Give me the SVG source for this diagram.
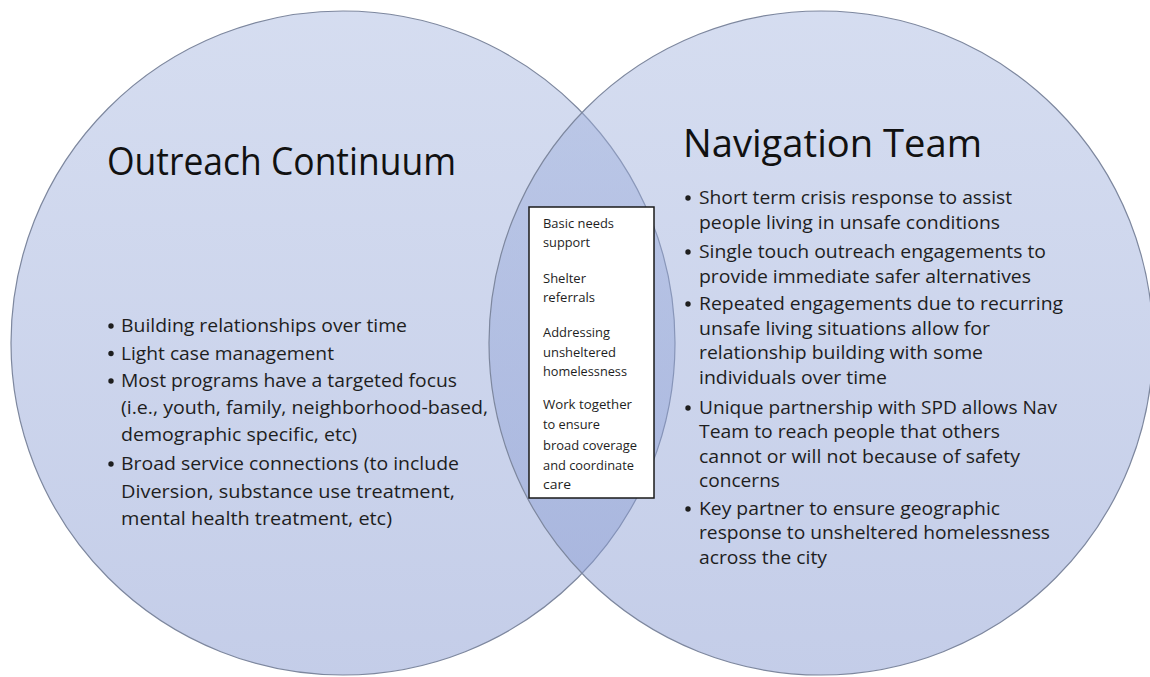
<svg xmlns="http://www.w3.org/2000/svg" width="1150" height="677" viewBox="0 0 1150 677">
<defs>
<linearGradient id="cg" x1="0" y1="0" x2="0" y2="1">
<stop offset="0" stop-color="#a2b3de" stop-opacity="0.45"/>
<stop offset="1" stop-color="#8497d0" stop-opacity="0.48"/>
</linearGradient>
<style>
.circ{fill:url(#cg);stroke:#7d879e;stroke-width:1.2}
.title{font-family:"Open Sans","Liberation Sans",sans-serif;font-size:39px;fill:#111}
.body{font-family:"Open Sans","Liberation Sans",sans-serif;font-size:19px;fill:#1e1e1e}
.small{font-family:"Open Sans","Liberation Sans",sans-serif;font-size:12.5px;fill:#1e1e1e}
.dot{fill:#1e1e1e}
.box{fill:#ffffff;stroke:#1a1a1a;stroke-width:1.5}
</style>
</defs>
<rect width="1150" height="677" fill="#ffffff"/>
<g id="outreach-continuum">
<circle class="circ" cx="343" cy="343" r="332"/>
<text class="title" x="107" y="175" textLength="349" lengthAdjust="spacingAndGlyphs">Outreach Continuum</text>
<circle class="dot" cx="111" cy="326" r="2.7"/>
<circle class="dot" cx="111" cy="353.5" r="2.7"/>
<circle class="dot" cx="111" cy="381" r="2.7"/>
<circle class="dot" cx="111" cy="464" r="2.7"/>
<text class="body" x="121" y="332" textLength="286" lengthAdjust="spacingAndGlyphs">Building relationships over time</text>
<text class="body" x="121" y="359.5" textLength="213" lengthAdjust="spacingAndGlyphs">Light case management</text>
<text class="body" x="121" y="387" textLength="336" lengthAdjust="spacingAndGlyphs">Most programs have a targeted focus</text>
<text class="body" x="121" y="414" textLength="367" lengthAdjust="spacingAndGlyphs">(i.e., youth, family, neighborhood-based,</text>
<text class="body" x="121" y="441" textLength="236" lengthAdjust="spacingAndGlyphs">demographic specific, etc)</text>
<text class="body" x="121" y="470" textLength="338" lengthAdjust="spacingAndGlyphs">Broad service connections (to include</text>
<text class="body" x="121" y="497.5" textLength="334" lengthAdjust="spacingAndGlyphs">Diversion, substance use treatment,</text>
<text class="body" x="121" y="525" textLength="271" lengthAdjust="spacingAndGlyphs">mental health treatment, etc)</text>
</g>
<g id="navigation-team">
<circle class="circ" cx="821" cy="343" r="332"/>
<text class="title" x="683" y="157" textLength="299" lengthAdjust="spacingAndGlyphs">Navigation Team</text>
<circle class="dot" cx="688" cy="198" r="2.7"/>
<circle class="dot" cx="688" cy="252" r="2.7"/>
<circle class="dot" cx="688" cy="304" r="2.7"/>
<circle class="dot" cx="688" cy="408" r="2.7"/>
<circle class="dot" cx="688" cy="509" r="2.7"/>
<text class="body" x="699" y="204" textLength="313" lengthAdjust="spacingAndGlyphs">Short term crisis response to assist</text>
<text class="body" x="699" y="229" textLength="301" lengthAdjust="spacingAndGlyphs">people living in unsafe conditions</text>
<text class="body" x="699" y="258" textLength="347" lengthAdjust="spacingAndGlyphs">Single touch outreach engagements to</text>
<text class="body" x="699" y="283" textLength="332" lengthAdjust="spacingAndGlyphs">provide immediate safer alternatives</text>
<text class="body" x="699" y="310" textLength="364" lengthAdjust="spacingAndGlyphs">Repeated engagements due to recurring</text>
<text class="body" x="699" y="335" textLength="291" lengthAdjust="spacingAndGlyphs">unsafe living situations allow for</text>
<text class="body" x="699" y="359" textLength="284" lengthAdjust="spacingAndGlyphs">relationship building with some</text>
<text class="body" x="699" y="384" textLength="188" lengthAdjust="spacingAndGlyphs">individuals over time</text>
<text class="body" x="699" y="414" textLength="358" lengthAdjust="spacingAndGlyphs">Unique partnership with SPD allows Nav</text>
<text class="body" x="699" y="438" textLength="301" lengthAdjust="spacingAndGlyphs">Team to reach people that others</text>
<text class="body" x="699" y="463" textLength="321" lengthAdjust="spacingAndGlyphs">cannot or will not because of safety</text>
<text class="body" x="699" y="487" textLength="81" lengthAdjust="spacingAndGlyphs">concerns</text>
<text class="body" x="699" y="515" textLength="301" lengthAdjust="spacingAndGlyphs">Key partner to ensure geographic</text>
<text class="body" x="699" y="539" textLength="351" lengthAdjust="spacingAndGlyphs">response to unsheltered homelessness</text>
<text class="body" x="699" y="564" textLength="128" lengthAdjust="spacingAndGlyphs">across the city</text>
</g>
<g id="shared-box">
<rect class="box" x="529" y="207" width="125" height="291"/>
<text class="small" x="543" y="228" textLength="71" lengthAdjust="spacingAndGlyphs">Basic needs</text>
<text class="small" x="543" y="247" textLength="47" lengthAdjust="spacingAndGlyphs">support</text>
<text class="small" x="543" y="283" textLength="43" lengthAdjust="spacingAndGlyphs">Shelter</text>
<text class="small" x="543" y="302" textLength="52" lengthAdjust="spacingAndGlyphs">referrals</text>
<text class="small" x="543" y="337" textLength="67" lengthAdjust="spacingAndGlyphs">Addressing</text>
<text class="small" x="543" y="357" textLength="73" lengthAdjust="spacingAndGlyphs">unsheltered</text>
<text class="small" x="543" y="376" textLength="84" lengthAdjust="spacingAndGlyphs">homelessness</text>
<text class="small" x="543" y="409" textLength="89" lengthAdjust="spacingAndGlyphs">Work together</text>
<text class="small" x="543" y="429" textLength="57" lengthAdjust="spacingAndGlyphs">to ensure</text>
<text class="small" x="543" y="450" textLength="94" lengthAdjust="spacingAndGlyphs">broad coverage</text>
<text class="small" x="543" y="470" textLength="91" lengthAdjust="spacingAndGlyphs">and coordinate</text>
<text class="small" x="543" y="489" textLength="28" lengthAdjust="spacingAndGlyphs">care</text>
</g>
<g id="connectors"></g>
</svg>
